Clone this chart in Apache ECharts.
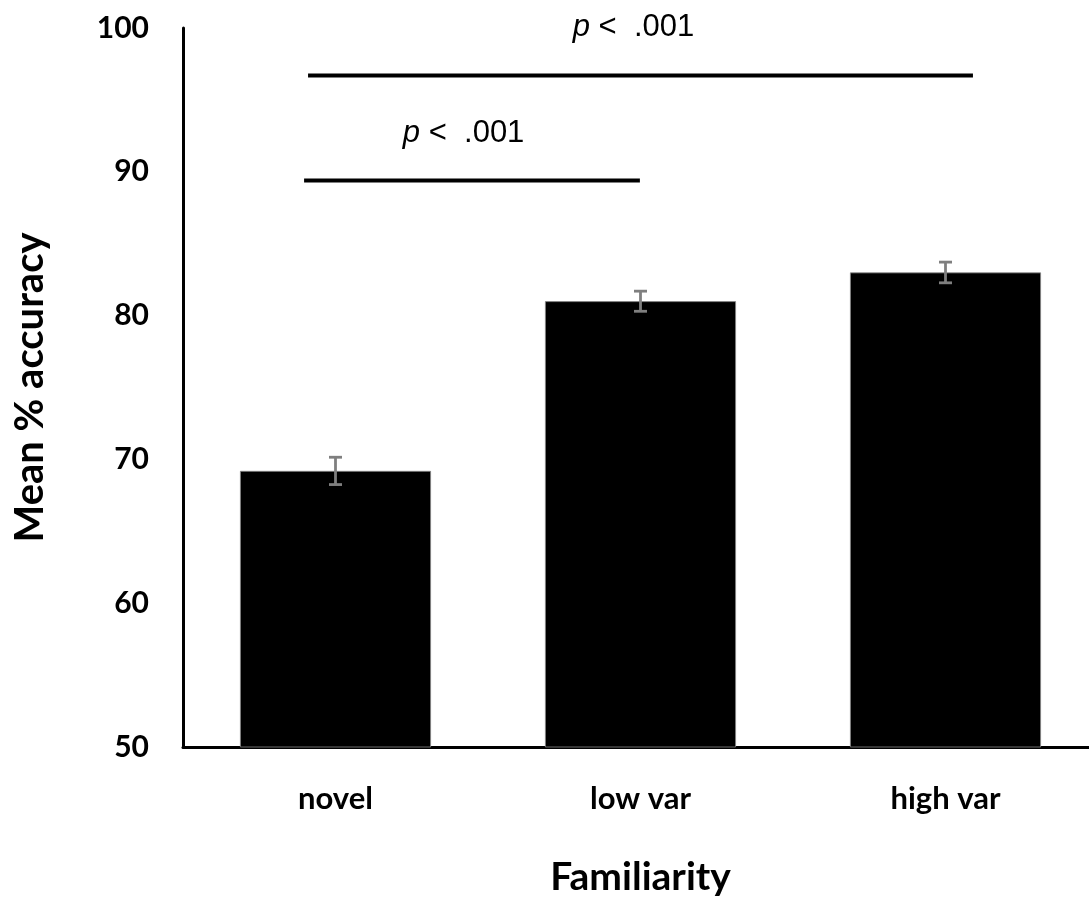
<!DOCTYPE html>
<html><head><meta charset="utf-8">
<script src="https://cdn.jsdelivr.net/npm/echarts@6/dist/echarts.min.js"></script>
<style>html,body{margin:0;padding:0;background:#fff}#c{width:1089px;height:899px}</style>
</head><body><div id="c"></div>
<script>
const categories = ['novel', 'low var', 'high var'];
const means = [69.2, 81.0, 83.0];
const errors = [0.95, 0.7, 0.72];
const yTicks = [50, 60, 70, 80, 90, 100];
// significance brackets: [xStart, xEnd, y] on a 0..3 position scale (category i centred at i+0.5)
const bracketLow = [[0.397, 89.4], [1.498, 89.4]];
const bracketHigh = [[0.41, 96.7], [2.59, 96.7]];
const sigLabels = [[0.92, 92.7], [1.477, 100.05]];
const sigText = 'p <  .001';

const chart = echarts.init(document.getElementById('c'));
const font = 'Lato';
chart.setOption({
  animation: false,
  grid: { left: 183, right: -9, top: 28, bottom: 152, outerBoundsMode: 'none', containLabel: false },
  xAxis: [{
    type: 'category', data: categories,
    name: 'Familiarity', nameLocation: 'middle', nameGap: 111,
    nameTextStyle: { fontFamily: font, fontWeight: 'bold', fontSize: 39, color: '#000' },
    axisLine: { lineStyle: { color: '#000', width: 3 } },
    axisTick: { show: false },
    axisLabel: { fontFamily: font, fontWeight: 'bold', fontSize: 31, color: '#000', margin: 36 }
  }, {
    type: 'value', min: 0, max: 3, show: false
  }],
  yAxis: {
    type: 'value', min: 50, max: 100, interval: 10,
    name: 'Mean % accuracy', nameLocation: 'middle', nameGap: 133,
    nameTextStyle: { fontFamily: font, fontWeight: 'bold', fontSize: 40, color: '#000' },
    axisLine: { show: true, lineStyle: { color: '#000', width: 3 } },
    axisTick: { show: false },
    splitLine: { show: false },
    axisLabel: { fontFamily: font, fontWeight: 'bold', fontSize: 30, color: '#000', margin: 34,
      formatter: v => yTicks.includes(v) ? String(v) : '' }
  },
  series: [{
    type: 'bar', data: means, barWidth: 191,
    itemStyle: { color: '#000', borderColor: '#888', borderWidth: 0.8 }
  }, {
    type: 'custom', xAxisIndex: 0, z: 10,
    data: means.map((m, i) => [i, m - errors[i], m + errors[i]]),
    renderItem: (params, api) => {
      const lo = api.coord([api.value(0), api.value(1)]);
      const hi = api.coord([api.value(0), api.value(2)]);
      const w = 6.5;
      const st = { stroke: '#7f7f7f', lineWidth: 2.8 };
      return { type: 'group', children: [
        { type: 'line', shape: { x1: lo[0], y1: lo[1], x2: hi[0], y2: hi[1] }, style: st },
        { type: 'line', shape: { x1: lo[0] - w, y1: lo[1], x2: lo[0] + w, y2: lo[1] }, style: st },
        { type: 'line', shape: { x1: hi[0] - w, y1: hi[1], x2: hi[0] + w, y2: hi[1] }, style: st }
      ]};
    }
  }, {
    type: 'line', xAxisIndex: 1, data: bracketLow, showSymbol: false, clip: false,
    lineStyle: { color: '#000', width: 4 }, silent: true
  }, {
    type: 'line', xAxisIndex: 1, data: bracketHigh, showSymbol: false, clip: false,
    lineStyle: { color: '#000', width: 4 }, silent: true
  }, {
    type: 'scatter', xAxisIndex: 1, data: sigLabels, symbolSize: 0, clip: false, silent: true,
    itemStyle: { opacity: 1 },
    label: { show: true, position: 'inside', formatter: () => '{i|p}' + sigText.slice(1),
      fontFamily: 'Liberation Sans', fontSize: 31, color: '#000', textBorderWidth: 0,
      rich: { i: { fontFamily: 'Liberation Sans', fontStyle: 'italic', fontSize: 31, color: '#000' } } }
  }]
});
</script></body></html>
